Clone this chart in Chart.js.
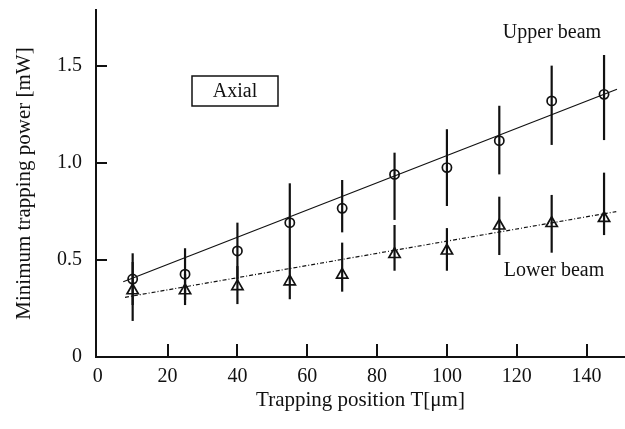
<!DOCTYPE html>
<html>
<head>
<meta charset="utf-8">
<script src="https://cdn.jsdelivr.net/npm/chart.js@4/dist/chart.umd.min.js"></script>
<style>
  html, body { margin: 0; padding: 0; background: #fff; }
  #wrap { width: 625px; height: 429px; }
</style>
</head>
<body>
<div id="wrap"><canvas id="c" width="625" height="429"></canvas></div>
<script>
// ---- data ----
const positions = [10, 25, 40, 55, 70, 85, 100, 115, 130, 145];

const upperBeam     = [0.402, 0.427, 0.547, 0.693, 0.767, 0.942, 0.977, 1.116, 1.321, 1.355];
const upperErrHigh  = [0.535, 0.561, 0.693, 0.896, 0.913, 1.054, 1.175, 1.296, 1.503, 1.558];
const upperErrLow   = [0.268, 0.294, 0.401, 0.490, 0.643, 0.707, 0.779, 0.942, 1.094, 1.119];

const lowerBeam     = [0.343, 0.343, 0.364, 0.389, 0.424, 0.530, 0.548, 0.677, 0.690, 0.716];
const lowerErrHigh  = [0.490, 0.428, 0.469, 0.490, 0.590, 0.681, 0.665, 0.827, 0.836, 0.951];
const lowerErrLow   = [0.186, 0.268, 0.273, 0.298, 0.337, 0.445, 0.445, 0.526, 0.538, 0.629];

const upperFitX = [7.3, 148.7];
const upperFitY = [0.388, 1.381];
const lowerFitX = [7.8, 148.5];
const lowerFitY = [0.308, 0.750];

const xTickValues = [0, 20, 40, 60, 80, 100, 120, 140];
const yTickValues = [0, 0.5, 1.0, 1.5];

const labelUpper = 'Upper beam';
const labelLower = 'Lower beam';
const labelBox = 'Axial';
const xTitle = 'Trapping position T[\u03bcm]';
const yTitle = 'Minimum trapping power [mW]';

// ---- build chart ----
const SERIF = '"Liberation Serif", "DejaVu Serif", serif';
const INK = '#111';

const toPts = (xs, ys) => xs.map((x, i) => ({ x: x, y: ys[i] }));

const errorBarPlugin = {
  id: 'errorBars',
  afterDatasetsDraw(chart) {
    const ctx = chart.ctx;
    const xs = chart.scales.x, ys = chart.scales.y;
    ctx.save();
    ctx.strokeStyle = INK;
    ctx.lineWidth = 2.2;
    const draw = (lo, hi) => {
      positions.forEach((p, i) => {
        const px = xs.getPixelForValue(p);
        ctx.beginPath();
        ctx.moveTo(px, ys.getPixelForValue(lo[i]));
        ctx.lineTo(px, ys.getPixelForValue(hi[i]));
        ctx.stroke();
      });
    };
    draw(upperErrLow, upperErrHigh);
    draw(lowerErrLow, lowerErrHigh);
    ctx.restore();
  }
};

const innerTicksPlugin = {
  id: 'innerTicks',
  afterDraw(chart) {
    const ctx = chart.ctx;
    const xs = chart.scales.x, ys = chart.scales.y;
    const area = chart.chartArea;
    ctx.save();
    ctx.strokeStyle = INK;
    ctx.lineWidth = 2;
    xTickValues.forEach(v => {
      if (v === 0) return;
      const px = Math.round(xs.getPixelForValue(v));
      ctx.beginPath();
      ctx.moveTo(px, area.bottom);
      ctx.lineTo(px, area.bottom - 13);
      ctx.stroke();
    });
    yTickValues.forEach(v => {
      if (v === 0) return;
      const py = Math.round(ys.getPixelForValue(v));
      ctx.beginPath();
      ctx.moveTo(area.left, py);
      ctx.lineTo(area.left + 11, py);
      ctx.stroke();
    });
    ctx.restore();
  }
};

const labelsPlugin = {
  id: 'textLabels',
  afterDraw(chart) {
    const ctx = chart.ctx;
    ctx.save();
    ctx.fillStyle = INK;
    ctx.strokeStyle = INK;
    ctx.font = '20px ' + SERIF;
    ctx.textAlign = 'center';
    ctx.textBaseline = 'middle';
    ctx.fillText(labelUpper, 552, 33);
    ctx.fillText(labelLower, 554, 271);
    ctx.lineWidth = 1.5;
    ctx.strokeRect(192, 76, 86, 30);
    ctx.fillText(labelBox, 235, 92);
    ctx.restore();
  }
};

new Chart(document.getElementById('c'), {
  type: 'scatter',
  data: {
    datasets: [
      {
        label: labelUpper,
        data: toPts(positions, upperBeam),
        pointStyle: 'circle',
        pointRadius: 4.6,
        pointBorderWidth: 1.7,
        pointBorderColor: INK,
        pointBackgroundColor: 'rgba(0,0,0,0)',
        showLine: false
      },
      {
        label: labelLower,
        data: toPts(positions, lowerBeam),
        pointStyle: 'triangle',
        pointRadius: 6.5,
        pointBorderWidth: 1.7,
        pointBorderColor: INK,
        pointBackgroundColor: 'rgba(0,0,0,0)',
        showLine: false
      },
      {
        label: 'Upper fit',
        data: toPts(upperFitX, upperFitY),
        showLine: true,
        borderColor: INK,
        borderWidth: 1.2,
        pointRadius: 0
      },
      {
        label: 'Lower fit',
        data: toPts(lowerFitX, lowerFitY),
        showLine: true,
        borderColor: INK,
        borderWidth: 1.2,
        borderDash: [4, 2, 1, 2],
        pointRadius: 0
      }
    ]
  },
  options: {
    responsive: false,
    animation: false,
    devicePixelRatio: 1,
    layout: { autoPadding: false, padding: { top: 10, right: 0, left: 0, bottom: 0 } },
    plugins: {
      legend: { display: false },
      tooltip: { enabled: false }
    },
    scales: {
      x: {
        type: 'linear',
        position: 'bottom',
        min: -0.5,
        max: 151,
        grid: { display: false, drawTicks: false },
        border: { display: true, color: INK, width: 2 },
        afterBuildTicks: s => { s.ticks = xTickValues.map(v => ({ value: v })); },
        afterFit: s => { s.height = 72; s.paddingLeft = 0; s.paddingRight = 0; },
        ticks: {
          color: INK,
          padding: 8,
          maxRotation: 0,
          font: { family: SERIF, size: 20 },
          callback: v => String(v)
        },
        title: {
          display: true,
          text: xTitle,
          color: INK,
          font: { family: SERIF, size: 21 },
          padding: { top: 0, bottom: 16 }
        }
      },
      y: {
        type: 'linear',
        position: 'left',
        min: 0,
        max: 1.79,
        grid: { display: false, drawTicks: false },
        border: { display: true, color: INK, width: 2 },
        afterBuildTicks: s => { s.ticks = yTickValues.map(v => ({ value: v })); },
        afterFit: s => { s.width = 96; s.paddingTop = 0; s.paddingBottom = 0; },
        ticks: {
          color: INK,
          padding: 14,
          font: { family: SERIF, size: 20 },
          callback: v => (v === 0 ? '0' : v.toFixed(1))
        },
        title: {
          display: true,
          text: yTitle,
          color: INK,
          font: { family: SERIF, size: 21 },
          padding: { top: 12, bottom: 0 }
        }
      }
    }
  },
  plugins: [errorBarPlugin, innerTicksPlugin, labelsPlugin]
});
</script>
</body>
</html>
